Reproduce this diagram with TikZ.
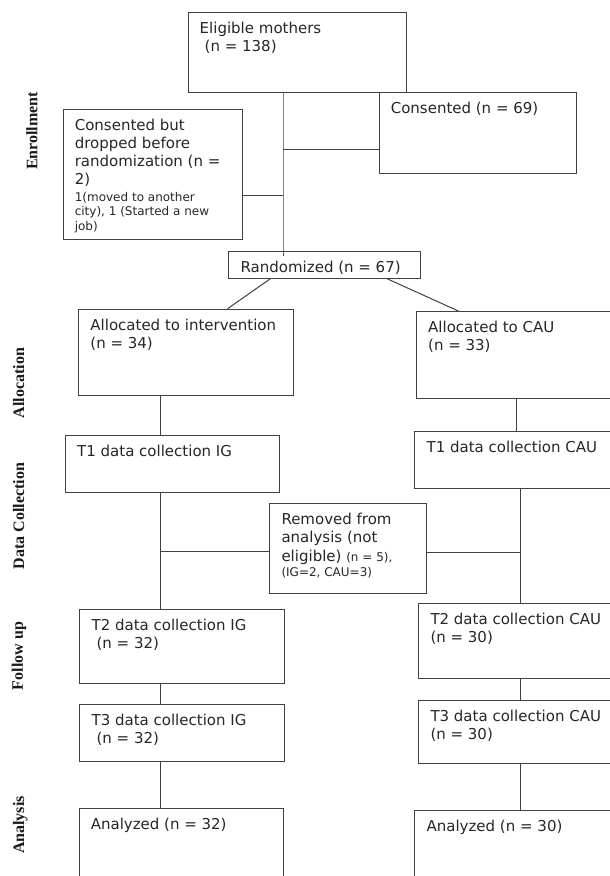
\documentclass[tikz,border=0pt]{standalone}
\usepackage{fontspec}
\setmainfont{DejaVu Sans}
\newfontfamily\lblfont{Liberation Serif}
\newcommand{\smf}{\fontsize{12}{14.7}\selectfont}
\newcommand{\flowbox}[6]{%
  \node[box, minimum width=#4pt, minimum height=#5pt] (#1) at (#2,#3) {};
  \node[txt] (#1t) at ([xshift=12pt,yshift=-9.7pt]#1.north west) {#6};}
\begin{document}
\begin{tikzpicture}[x=1pt,y=-1pt,
  box/.style={draw=black!75, line width=1pt, anchor=north west, inner sep=0pt},
  txt/.style={anchor=north west, inner sep=0pt, align=left, font=\fontsize{15}{18.3}\selectfont, text=black!85},
  conn/.style={draw=black!75, line width=1pt},
  side/.style={rotate=90, anchor=base, inner sep=0pt, font=\lblfont\bfseries\fontsize{16}{19}\selectfont, text=black!90}]
\useasboundingbox (0,0) rectangle (610,876);
\clip (0,0) rectangle (610,876);

\flowbox{elig}{187.5}{12.3}{218.3}{79.4}{Eligible mothers\\\hspace*{5pt}(n = 138)}
\flowbox{cons}{378.6}{91.7}{197.3}{81.6}{Consented (n = 69)}
\flowbox{drop}{62.6}{108.7}{179.4}{130.3}{Consented but\\dropped before\\randomization (n =\\2)\\[-2.1pt]{\smf 1(moved to another}\\[-3.7pt]{\smf city), 1 (Started a new}\\[-3.7pt]{\smf job)}}
\flowbox{rand}{228.4}{250.7}{191.1}{27}{Randomized (n = 67)}
\flowbox{ai}{78.2}{308.7}{214.4}{86.6}{Allocated to intervention\\(n = 34)}
\flowbox{ac}{416}{311.3}{215}{86.4}{Allocated to CAU\\(n = 33)}
\flowbox{tia}{65}{434.7}{214.4}{57.6}{T1 data collection IG}
\flowbox{tic}{414.4}{431}{215}{57.3}{T1 data collection CAU}
\flowbox{rem}{269.3}{503.3}{156.4}{90}{Removed from\\analysis (not\\eligible) {\smf (n = 5),}\\[-3pt]{\smf (IG=2, CAU=3)}}
\flowbox{tiia}{79.4}{609}{205}{74.3}{T2 data collection IG\\\hspace*{5pt}(n = 32)}
\flowbox{tiiia}{79.4}{704.3}{205}{56.4}{T3 data collection IG\\\hspace*{5pt}(n = 32)}
\flowbox{ana}{78.6}{807.7}{204.3}{100}{Analyzed (n = 32)}
\flowbox{tiic}{418.3}{603.3}{210}{74.4}{T2 data collection CAU\\(n = 30)}
\flowbox{tiiic}{418.3}{700.3}{210}{62.4}{T3 data collection CAU\\(n = 30)}
\flowbox{anc}{414.4}{810}{210}{100}{Analyzed (n = 30)}

% enrollment connectors
\coordinate (trunk) at (283,0);
\coordinate (cj) at (283,149.7);
\coordinate (dj) at (283,195.7);
\draw[conn] (elig.south -| trunk) -- (rand.north -| trunk) -- ++(0,5);
\draw[conn] (cj) -- (cons.west |- cj);
\draw[conn] (drop.east |- dj) -- (dj);
\draw[conn] ([xshift=42pt]rand.south west) -- ([xshift=149.4pt]ai.north west);
\draw[conn] ([xshift=158.6pt]rand.south west) -- ([xshift=43pt]ac.north west);

% intervention arm
\coordinate (lx) at (160.7,0);
\coordinate (lj) at (160.7,551);
\draw[conn] (ai.south -| lx) -- (tia.north -| lx);
\draw[conn] (tia.south -| lx) -- (tiia.north -| lx);
\draw[conn] (lj) -- (rem.west |- lj);
\draw[conn] (tiia.south -| lx) -- (tiiia.north -| lx);
\draw[conn] (tiiia.south -| lx) -- (ana.north -| lx);

% CAU arm
\coordinate (rx1) at (516,0);
\coordinate (rx) at (520,0);
\coordinate (rj) at (520,552.3);
\draw[conn] (ac.south -| rx1) -- (tic.north -| rx1);
\draw[conn] (tic.south -| rx) -- (tiic.north -| rx);
\draw[conn] (rem.east |- rj) -- (rj);
\draw[conn] (tiic.south -| rx) -- (tiiic.north -| rx);
\draw[conn] (tiiic.south -| rx) -- (anc.north -| rx);

% stage labels
\node[side] (s1) at (37.3,131) {Enrollment};
\node[side] (s2) at (24,383) {Allocation};
\node[side] (s3) at (24,516) {Data Collection};
\node[side] (s4) at (23,656) {Follow up};
\node[side] (s5) at (24,825) {Analysis};
\end{tikzpicture}
\end{document}
